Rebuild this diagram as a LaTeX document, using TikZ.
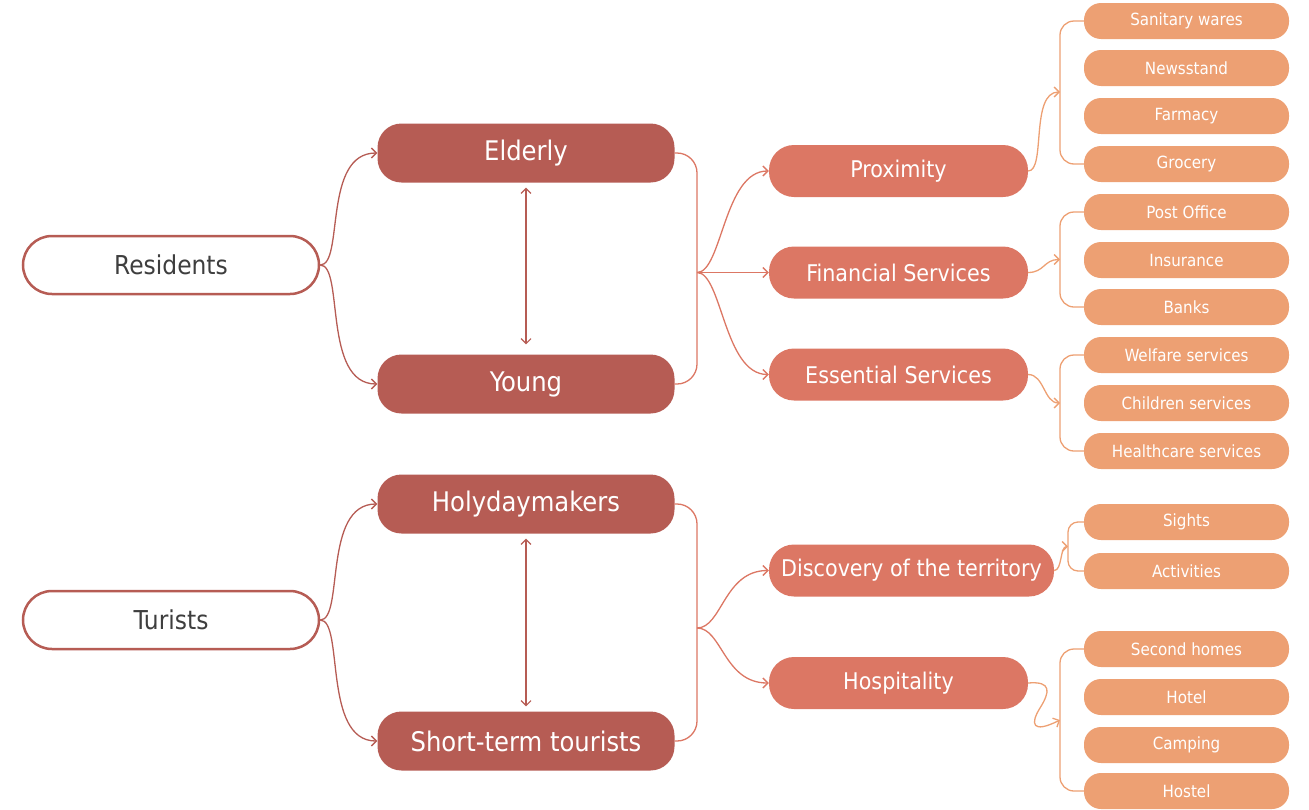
\documentclass[tikz,border=0pt]{standalone}
\usepackage{fontspec}
\setmainfont{DejaVu Sans Condensed}
\usetikzlibrary{arrows.meta}

\definecolor{rootc}{HTML}{B65C54}
\definecolor{midc}{HTML}{DC7764}
\definecolor{leafc}{HTML}{EDA073}
\definecolor{txtc}{HTML}{3E3E3E}

\begin{document}
\begin{tikzpicture}[x=1pt,y=-1pt,
  >={Straight Barb[length=5pt,width=10pt]},
  rootbox/.style={draw=rootc, line width=2.5pt, fill=white, rounded corners=29pt,
    minimum width=296pt, minimum height=58pt, inner sep=0pt, text=txtc,
    font=\fontsize{26}{30}\selectfont},
  groupbox/.style={fill=rootc, rounded corners=24pt, minimum width=297pt,
    minimum height=59pt, inner sep=0pt, text=white, font=\fontsize{27}{31}\selectfont},
  servbox/.style={fill=midc, rounded corners=25pt, minimum height=52pt,
    inner sep=0pt, text=white, font=\fontsize{23}{27}\selectfont},
  leafbox/.style={fill=leafc, rounded corners=17pt, minimum width=205pt,
    minimum height=36pt, inner sep=0pt, text=white, font=\fontsize{16.8}{20}\selectfont},
  linkA/.style={draw=rootc, line width=1.3pt, ->},
  linkB/.style={draw=midc, line width=1.3pt},
  linkC/.style={draw=leafc, line width=1.3pt},
]
\useasboundingbox (0,0) rectangle (1309,809);

% first level
\node[rootbox] (res) at (171,265) {Residents};
\node[rootbox] (tur) at (171,620) {Turists};

% user groups
\node[groupbox] (eld) at (526,153) {Elderly};
\node[groupbox] (yng) at (526,384) {Young};
\node[groupbox] (hol) at (526,504) {Holydaymakers};
\node[groupbox] (sht) at (526,741) {Short-term tourists};

% services
\node[servbox, minimum width=259pt] (prox) at (898.5,171) {Proximity};
\node[servbox, minimum width=259pt] (fin) at (898.5,272.5) {Financial Services};
\node[servbox, minimum width=259pt] (ess) at (898.5,374.5) {Essential Services};
\node[servbox, minimum width=285pt] (disc) at (911.5,570.5) {Discovery of the territory};
\node[servbox, minimum width=259pt] (hosp) at (898.5,683) {Hospitality};

% facilities
\node[leafbox] (san) at (1186.5,21) {Sanitary wares};
\node[leafbox] (news) at (1186.5,68) {Newsstand};
\node[leafbox] (farm) at (1186.5,116) {Farmacy};
\node[leafbox] (groc) at (1186.5,164) {Grocery};
\node[leafbox] (post) at (1186.5,212) {Post Office};
\node[leafbox] (ins) at (1186.5,260) {Insurance};
\node[leafbox] (bank) at (1186.5,307) {Banks};
\node[leafbox] (welf) at (1186.5,355) {Welfare services};
\node[leafbox] (child) at (1186.5,403) {Children services};
\node[leafbox] (health) at (1186.5,451) {Healthcare services};
\node[leafbox] (sight) at (1186.5,522) {Sights};
\node[leafbox] (act) at (1186.5,571) {Activities};
\node[leafbox] (second) at (1186.5,649) {Second homes};
\node[leafbox] (hotel) at (1186.5,697) {Hotel};
\node[leafbox] (camp) at (1186.5,745) {Camping};
\node[leafbox] (hostel) at (1186.5,791) {Hostel};

% junction points on the brackets
\coordinate (jres) at (697,272.5);
\coordinate (jtur) at (697,628);
\coordinate (jprox) at (1060,92);
\coordinate (jfin) at (1060,259.5);
\coordinate (jess) at (1060,403);
\coordinate (jdisc) at (1068,546.5);
\coordinate (jhosp) at (1060,720);

% residents / turists split into groups
\draw[linkA] (res.east) .. controls +(24,0) and +(-55,0) .. (eld.west);
\draw[linkA] (res.east) .. controls +(24,0) and +(-55,0) .. (yng.west);
\draw[linkA] (tur.east) .. controls +(24,0) and +(-55,0) .. (hol.west);
\draw[linkA] (tur.east) .. controls +(24,0) and +(-55,0) .. (sht.west);

% two-way links between groups
\draw[draw=rootc, line width=1.1pt, <->, shorten <=5pt, shorten >=10pt] (eld.south) -- (yng.north);
\draw[draw=rootc, line width=1.1pt, <->, shorten <=5pt, shorten >=5pt] (hol.south) -- (sht.north);

% brackets joining the groups
\draw[linkB, rounded corners=20pt] (eld.east) -- (697,153) -- (697,384) -- (yng.east);
\draw[linkB, rounded corners=20pt] (hol.east) -- (697,504) -- (697,741) -- (sht.east);

% groups to services
\draw[linkB, ->] (jres) .. controls +(25,0) and +(-45,0) .. (prox.west);
\draw[linkB, ->] (jres) -- (fin.west |- jres);
\draw[linkB, ->] (jres) .. controls +(25,0) and +(-45,0) .. (ess.west);
\draw[linkB, ->] (jtur) .. controls +(25,0) and +(-45,0) .. (disc.west);
\draw[linkB, ->] (jtur) .. controls +(25,0) and +(-45,0) .. (hosp.west);

% brackets joining the facilities
\draw[linkC, rounded corners=14pt] (san.west) -- (1060,21) -- (1060,164) -- (groc.west);
\draw[linkC, rounded corners=14pt] (post.west) -- (1060,212) -- (1060,307) -- (bank.west);
\draw[linkC, rounded corners=14pt] (welf.west) -- (1060,355) -- (1060,451) -- (health.west);
\draw[linkC, rounded corners=10pt] (sight.west) -- (1068,522) -- (1068,571) -- (act.west);
\draw[linkC, rounded corners=14pt] (second.west) -- (1060,649) -- (1060,791) -- (hostel.west);

% services to facilities
\draw[linkC, ->] (prox.east) .. controls (1046,171) and (1030,92) .. (jprox);
\draw[linkC, ->] (fin.east) .. controls +(16,0) and +(-16,0) .. (jfin);
\draw[linkC, ->] (ess.east) .. controls +(16,0) and +(-16,0) .. (jess);
\draw[linkC, ->] (disc.east) .. controls +(8,0) and +(-8,0) .. (jdisc);
\draw[linkC, ->] (hosp.east) .. controls (1052,681) and (1050,692) .. (1040,708)
  .. controls (1030,724) and (1032,734) .. (jhosp);
\end{tikzpicture}
\end{document}
